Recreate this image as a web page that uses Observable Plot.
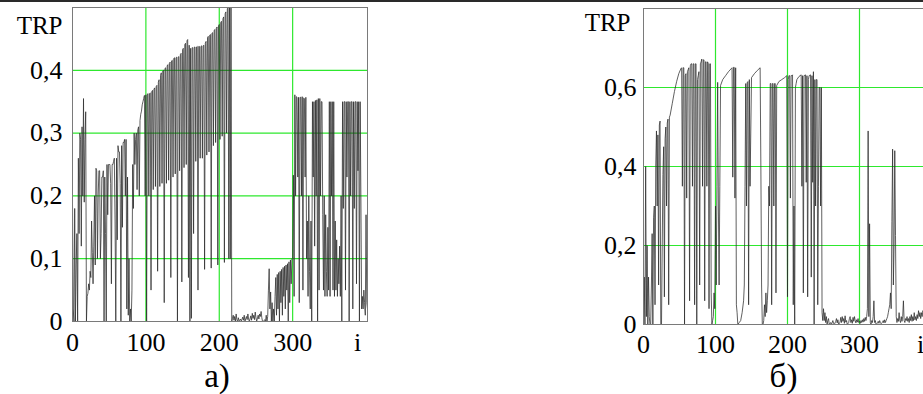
<!DOCTYPE html>
<html>
<head>
<meta charset="utf-8">
<script src="https://cdn.jsdelivr.net/npm/d3@7"></script>
<script src="https://cdn.jsdelivr.net/npm/@observablehq/plot@0.6"></script>
<style>
  html, body { margin: 0; padding: 0; background: #fff; }
  #wrap { position: relative; width: 923px; height: 394px; overflow: hidden; background: #fff; }
  #pa { position: absolute; left: 0; top: 0; width: 380px; height: 394px; }
  #pb { position: absolute; left: 560px; top: 0; width: 384px; height: 394px; }
  #topline { position: absolute; left: 0; top: 0; width: 923px; height: 2px; background: #2a2a2a; }
</style>
</head>
<body>
<div id="wrap">
  <div id="pa"></div>
  <div id="pb"></div>
  <div id="topline"></div>
</div>
<script>
// ---------- data ----------
// panel а): TRP versus i  ([i, TRP])
const trpA = [
[0,.19],[1,.02],[2,0],[3,.18],[4,0],[5,.09],[6,.14],[7,0],[8,.26],[9,.14],[10,.3],[11,.29],[12,.12],[13,.31],[14,.2],[15,.355],[16,.19],[17,.29],[18,.334],[19,0],
[20,.04],[21,.045],[22,.06],[23,.05],[24,.08],[25,.07],[26,.16],[27,.11],[28,.06],[29,.12],[30,.2],[31,.09],[32,.244],[33,.24],[34,.1],[35,.2],[36,.24],[37,.24],[38,.1],[39,.14],
[40,.23],[41,.23],[42,.24],[43,0],[44,.23],[45,.14],[46,0],[47,.25],[48,.17],[49,.25],[50,.25],[51,.25],[52,.22],[53,.06],[54,.25],[55,.25],[56,.255],[57,.26],[58,.16],[59,0],
[60,.26],[61,.13],[62,.28],[63,.27],[64,.27],[65,.22],[66,0],[67,.28],[68,.15],[69,.285],[70,.285],[71,.29],[72,.2],[73,.29],[74,.02],[75,.23],[76,.01],[77,.1],[78,0],[79,.02],
[80,0],[81,.05],[82,.25],[83,.18],[84,.3],[85,.25],[86,.29],[87,.3],[88,.21],[89,.305],[90,.31],[91,.2],[92,.32],[93,.33],[94,.335],[95,.345],[96,.35],[97,.355],[98,.36],[99,.2],
[100,.361],[101,0],[102,.362],[103,.363],[104,.2],[105,.363],[106,.364],[107,.05],[108,.366],[109,.368],[110,.21],[111,.37],[112,.372],[113,.215],[114,.374],[115,.376],[116,.08],[117,.381],[118,.385],[119,.215],
[120,.392],[121,.396],[122,.22],[123,.399],[124,.4],[125,.03],[126,.403],[127,.404],[128,.22],[129,.407],[130,.409],[131,.225],[132,.411],[133,.413],[134,.07],[135,.415],[136,.416],[137,.23],[138,.419],[139,.42],
[140,.235],[141,.42],[142,.421],[143,0],[144,.421],[145,.422],[146,.24],[147,.425],[148,.427],[149,.063],[150,.433],[151,.435],[152,.245],[153,.441],[154,.443],[155,.25],[156,.447],[157,.449],[158,.07],[159,.44],
[160,0],[161,.435],[162,.005],[163,.436],[164,.436],[165,.14],[166,.437],[167,.437],[168,.255],[169,.437],[170,.438],[171,.05],[172,.438],[173,.438],[174,.26],[175,.438],[176,.439],[177,.26],[178,.439],[179,.44],
[180,.083],[181,.443],[182,.446],[183,.265],[184,.452],[185,.454],[186,.27],[187,.456],[188,.457],[189,.085],[190,.459],[191,.46],[192,.28],[193,.463],[194,.465],[195,.285],[196,.467],[197,.469],[198,.09],[199,.471],
[200,.473],[201,.29],[202,.476],[203,.478],[204,.295],[205,.482],[206,.485],[207,.094],[208,.49],[209,.493],[210,.3],[211,.498],[212,.5],[213,.1],[214,.52],[215,.1],[216,.6],[217,0],
[218,.005],[219,.01],[220,.002],[221,.008],[222,0],[223,.012],[224,.003],[225,0],[226,.006],[227,.001],[229,.004],[230,0],[232,.007],[233,.002],[234,.01],[235,0],[237,.008],[238,.003],[239,.012],
[240,.004],[241,0],[243,.009],[244,.002],[245,.013],[246,.005],[247,.01],[248,.003],[249,.015],[250,.006],[251,0],[253,.01],[254,.004],[255,.012],[256,.008],[257,.016],[258,.006],[259,0],
[260,0],[262,.003],[263,0],[264,.01],[265,0],[266,.008],[267,.05],[268,.084],[269,.02],[270,.047],[271,0],[272,.03],[273,0],[274,.02],[275,0],[276,.04],[277,.07],[278,.01],[279,.075],
[280,.02],[281,.078],[282,0],[283,.08],[284,.03],[285,.083],[286,.01],[287,.086],[288,.04],[289,.088],[290,.02],[291,.09],[292,.05],[293,.092],[294,0],[295,.095],[296,.03],[297,.098],[298,.06],[299,.1],
[300,.1],[301,.233],[302,.04],[303,.361],[304,.2],[305,.358],[306,.357],[307,.23],[308,.357],[309,.03],[310,.357],[311,.357],[312,.2],[313,.358],[314,.05],[315,.356],[316,.355],[317,.23],[318,.357],[319,.1],
[320,.16],[321,.04],[322,.2],[323,.08],[324,.02],[325,.16],[326,0],[327,.35],[328,.23],[329,.35],[330,.12],[331,.352],[332,.2],[333,.353],[334,0],[335,.355],[336,.05],[337,.355],[338,.2],[339,.35],
[340,.35],[341,.17],[342,.05],[343,.2],[344,.04],[345,.17],[346,.08],[347,.04],[348,.15],[349,.05],[350,.35],[351,.04],[352,.35],[353,.2],[354,.35],[355,.05],[356,.35],[357,.04],[358,.16],[359,.05],
[360,.13],[361,.04],[362,.1],[363,.06],[364,.12],[365,.04],[366,.2],[367,0],[368,.35],[369,.18],[370,.35],[371,.35],[372,.05],[373,.35],[374,.23],[375,.35],[376,.35],[377,0],[378,.35],[379,.2],
[380,.35],[381,.35],[382,.02],[383,.35],[384,.18],[385,.35],[386,.35],[387,.06],[388,.35],[389,.24],[390,.35],[391,0],[392,.35],[393,.2],[394,.02],[395,.04],[396,.02],[397,.05],[398,.03],[399,.01],
[400,.17],[401,.03],[402,.02]
];

// panel б): TRP versus i  ([i, TRP])
const trpB = [
[0,0],[1,.12],[2,0],[3,.4],[4,.02],[5,.2],[6,0],[7,.12],[8,.02],[9,0],[10,0],[11,.1],[12,.23],[13,0],[14,.27],[15,.3],[16,.05],[17,.4],[18,.49],[19,.3],
[20,.48],[21,.1],[22,.505],[23,.515],[24,0],[25,0],[26,.2],[27,.38],[28,.45],[29,.07],[30,.47],[31,.5],[32,.3],[33,.51],[34,.52],[35,.05],[36,.525],[37,.53],
[40,.56],[43,.59],[46,.615],[49,.635],[52,.648],[53,.65],[54,.35],[55,.65],[56,.65],[57,0],[58,.63],[59,.635],
[60,.32],[61,.64],[62,.645],[63,.65],[64,.06],[65,.655],[66,.66],[67,.66],[68,.35],[69,.66],[70,.66],[71,.05],[72,.66],[73,.66],[74,0],[75,.62],[76,.63],[77,.64],[78,.1],[79,.66],
[80,.665],[81,.672],[82,.35],[83,.67],[84,.67],[85,.06],[86,.665],[87,.665],[88,.35],[89,.665],[90,.66],[91,.04],[92,.66],[93,.66],[94,.08],[95,0],[96,.01],[97,.02],[98,.08],[99,.04],
[100,.3],[101,.1],[102,.35],[103,.613],[104,.3],[105,.1],[106,.35],[107,.605],[110,.62],[114,.63],[118,.64],[122,.648],[123,.65],[124,.373],[125,.651],[126,.651],[127,.32],[128,.65],[129,.05],
[130,.03],[131,0],[133,.005],[135,.01],[137,.03],[139,.06],[140,.1],[141,.35],[142,.61],[143,.3],[144,.612],[145,.615],[146,.05],[147,.62],[148,.35],[150,.625],[154,.635],[158,.643],
[162,.65],[163,.4],[164,.1],[165,0],[166,0],[167,.01],[168,.05],[169,.02],[170,.08],[171,.03],[172,.06],[173,.1],[174,.35],[175,.3],[176,.61],[177,.61],[178,.05],[179,.61],
[180,.61],[181,.3],[182,.61],[183,.61],[184,.08],[185,.605],[188,.615],[192,.62],[196,.625],[199,.63],
[200,.07],[201,.62],[202,.63],[203,.63],[204,.32],[205,.63],[206,.63],[207,.632],[208,.05],[209,.3],[210,0],[211,.6],[212,.61],[213,.62],[216,.628],[219,.632],
[220,.35],[221,.63],[222,.08],[223,.63],[225,.632],[226,.36],[227,.63],[228,.07],[229,.62],[230,.63],[232,.632],[233,.12],[234,.63],[235,.36],[236,.64],[237,0],[238,.62],[239,.3],
[240,.62],[241,.62],[242,.05],[243,.35],[244,.6],[245,.6],[246,.3],[247,.6],[248,.03],[249,.01],[250,.04],[251,.01],[252,.03],[253,.005],[254,.02],[255,0],[256,.01],[257,.015],[258,0],
[260,.005],[261,0],[263,.01],[264,.003],[265,0],[267,.008],[268,.015],[269,.004],[270,.012],[271,0],[273,.006],[274,.018],[275,.005],[276,.02],[277,.008],[278,.015],[279,.003],
[280,.022],[281,.006],[282,.01],[283,0],[285,.005],[286,.015],[287,.02],[288,.005],[289,.012],[290,.003],[291,.018],[292,.008],[293,.02],[294,.01],[295,.004],[296,.012],[297,.006],[298,.015],[299,.005],
[300,.008],[301,.003],[302,.01],[303,.005],[304,.012],[305,.006],[306,.015],[307,.008],[308,.018],[309,.01],[310,.02],[311,.04],[312,.49],[313,.02],[314,.255],[315,.005],[316,0],[317,.01],[318,.005],[319,.02],
[320,.06],[321,.005],[322,.01],[323,0],[325,.004],[326,.008],[327,.003],[328,.01],[329,.005],[330,.002],[332,.006],[333,.01],[334,.004],[335,.012],[336,.005],[337,.01],[338,.015],[339,.02],
[340,.03],[341,.04],[342,.05],[343,.08],[344,.04],[345,.26],[346,.444],[347,.1],[348,.2],[349,.44],[350,.225],[351,.02],[352,.005],[353,.015],[354,.008],[355,.03],[356,.01],[357,.005],[358,.02],[359,.008],
[360,.02],[361,.06],[362,.01],[363,.005],[364,.015],[365,.01],[366,.02],[367,.008],[368,.015],[369,.005],[370,.02],[371,.01],[372,.025],[373,.008],[374,.02],[375,.01],[376,.03],[377,.012],[378,.02],[379,.01],
[380,.025],[381,.015],[382,.035],[383,.02],[384,.03],[385,.015],[386,.03],[387,.02],[388,.035],[389,.03],[390,.025],[392,.03],[395,.02]
];

// axis ticks, grid positions and texts
const xTicks = [0, 100, 200, 300];
const xGrid = [100, 200, 300];
const yTicksA = [0, 0.1, 0.2, 0.3, 0.4];
const yGridA = [0.1, 0.2, 0.3, 0.4];
const yTicksB = [0, 0.2, 0.4, 0.6];
const yGridB = [0.2, 0.4, 0.6];
const yLabel = "TRP";
const xLabel = "i";
const captionA = "а)";
const captionB = "б)";

// ---------- drawing ----------
const FONT = "Liberation Serif";
const GREEN = "#2ee82e";
const LINE = "#2b2b2b";
const FRAME = "#7a7a7a";
const fmt = d => String(d).replace(".", ",");

function panel(opts) {
  return Plot.plot({
    width: opts.width, height: 394,
    marginLeft: opts.ml, marginRight: opts.mr, marginTop: opts.mt, marginBottom: 394 - opts.bottom,
    style: {fontFamily: FONT, fontSize: "26px", background: "#fff", maxWidth: "none", overflow: "visible"},
    x: {domain: opts.xdomain},
    y: {domain: opts.ydomain},
    marks: [
      Plot.gridX(xGrid, {stroke: GREEN, strokeOpacity: 1, strokeWidth: 1.2}),
      Plot.gridY(opts.ygrid, {stroke: GREEN, strokeOpacity: 1, strokeWidth: 1.2}),
      Plot.line(opts.data, {x: d => d[0], y: d => d[1], stroke: LINE, strokeWidth: 0.75, clip: true}),
      Plot.frame({stroke: FRAME, strokeWidth: 1}),
      Plot.axisX(xTicks, {tickSize: 0, tickPadding: opts.xpad, tickFormat: d => String(d), label: null, fill: "#000", fontFamily: FONT, fontSize: 26}),
      Plot.axisY(opts.yticks, {tickSize: 0, tickPadding: opts.ypad, tickFormat: fmt, label: null, fill: "#000", fontFamily: FONT, fontSize: 26}),
      Plot.text([yLabel], {text: d => d, frameAnchor: "top-left", textAnchor: "end", lineAnchor: "middle", dx: opts.tdx, dy: opts.tdy, fill: "#000", fontFamily: FONT, fontSize: 25}),
      Plot.text([xLabel], {text: d => d, frameAnchor: "bottom-right", textAnchor: "middle", lineAnchor: "top", dx: opts.idx, dy: opts.xpad, fill: "#000", fontFamily: FONT, fontSize: 26}),
      Plot.text([opts.caption], {text: d => d, frameAnchor: "bottom", textAnchor: "middle", lineAnchor: "top", dx: opts.cdx, dy: opts.cdy, fontSize: 33, fontFamily: FONT, fill: "#000"})
    ]
  });
}

document.getElementById("pa").appendChild(panel({
  width: 380, ml: 72, mr: 13, mt: 7, bottom: 321,
  xdomain: [0, 402], ydomain: [0, 0.5],
  ygrid: yGridA, yticks: yTicksA, data: trpA,
  xpad: 11, ypad: 10, tdx: -10, tdy: 18, idx: -10,
  caption: captionA, cdx: -3, cdy: 42
}));
document.getElementById("pb").appendChild(panel({
  width: 384, ml: 83, mr: 13, mt: 8, bottom: 324,
  xdomain: [0, 400], ydomain: [0, 0.8],
  ygrid: yGridB, yticks: yTicksB, data: trpB,
  xpad: 10, ypad: 7, tdx: -13, tdy: 14, idx: -11,
  caption: captionB, cdx: -4, cdy: 39
}));
</script>
</body>
</html>
